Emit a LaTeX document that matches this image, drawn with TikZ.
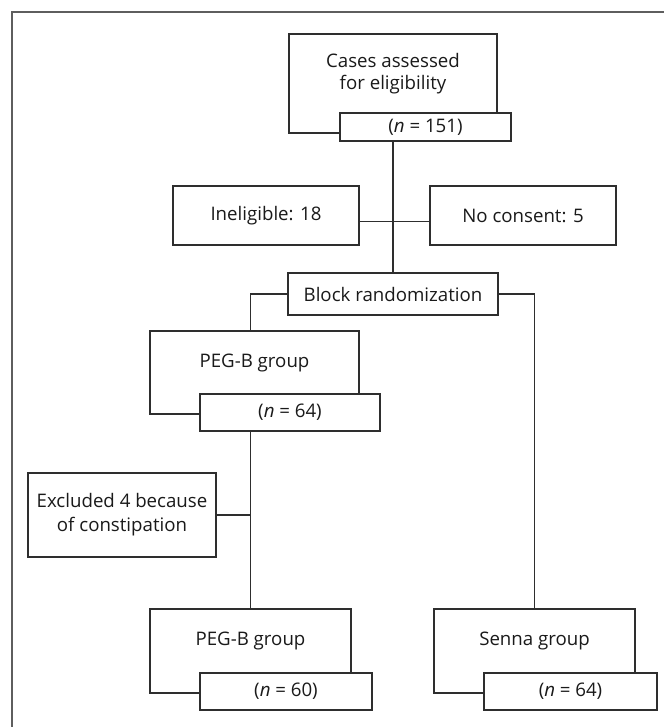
\documentclass[tikz,border=0pt]{standalone}
\usepackage{fontspec}
\setmainfont{Open Sans}
\usetikzlibrary{calc}
\definecolor{linec}{HTML}{2E2E2E}
\definecolor{framec}{HTML}{5E5E5E}
\definecolor{textc}{HTML}{1A1A1A}
\begin{document}
\begin{tikzpicture}[x=0.75pt,y=-0.75pt,
  every node/.style={font=\fontsize{14}{17}\selectfont,text=textc},
  box/.style={draw=linec,line width=1.2pt,fill=white,inner sep=0pt,align=center},
  sz/.style 2 args={minimum width=#1*0.75pt,minimum height=#2*0.75pt},
  conn/.style={draw=linec,line width=1.2pt},
  up/.style={label={[align=center,yshift=7.5pt]center:#1}}]
\useasboundingbox (0,0) rectangle (664,727);
\draw[framec,line width=1.3pt] (12,727) -- (12,12) -- (664,12);

% boxes
\node[box,sz={208}{99},up={Cases assessed\\for eligibility}] (cases) at (393,83.5) {};
\node[box,sz={171}{28}] (n151) at (425.5,127) {(\textit{n} = 151)};
\node[box,sz={186}{59}] (inel) at (266,215.5) {Ineligible: 18};
\node[box,sz={186}{59}] (nocons) at (523,215.5) {No consent: 5};
\node[box,sz={210}{42}] (block) at (393,294) {Block randomization};
\node[box,sz={209}{83},up={PEG-B group}] (peg1) at (254.5,372.5) {};
\node[box,sz={180}{37}] (n64a) at (290,412.5) {(\textit{n} = 64)};
\node[box,sz={188}{84},font=\fontsize{14}{18}\selectfont] (excl) at (122,515) {Excluded 4 because\\of constipation};
\node[box,sz={201}{84},up={PEG-B group}] (peg2) at (250.5,651) {};
\node[box,sz={172}{37}] (n60) at (286,691.5) {(\textit{n} = 60)};
\node[box,sz={201}{84},up={Senna group}] (senna) at (534.5,651) {};
\node[box,sz={173}{37}] (n64b) at (570.5,691.5) {(\textit{n} = 64)};

% connectors
\draw[conn] (n151.south -| cases.south) -- (block.north);
\draw[conn] ([yshift=-4.5pt]inel.east) -- ([yshift=-4.5pt]nocons.west);
\draw[conn] (block.west) -| (peg2.north |- peg1.north);
\draw[conn] (block.east) -| (senna.north);
\draw[conn] (n64a.south -| peg2.north) -- (peg2.north);
\draw[conn] (excl.east) -- (excl.east -| peg2.north);
\end{tikzpicture}
\end{document}
